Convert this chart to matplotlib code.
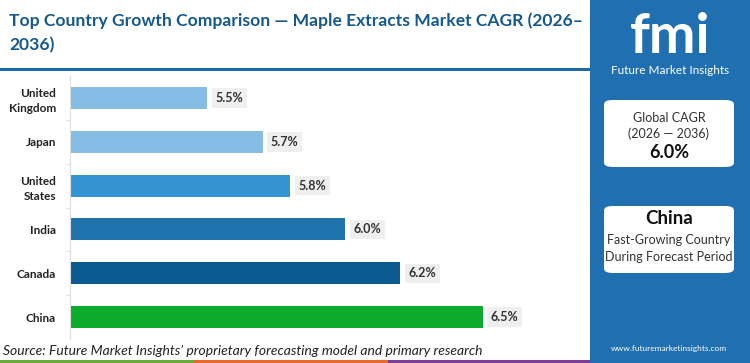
"""Top country growth comparison bar chart for the maple extracts market."""

import matplotlib

matplotlib.use("Agg")

import matplotlib.pyplot as plt
from matplotlib.patches import FancyBboxPatch, Rectangle

COUNTRIES = ["United\nKingdom", "Japan", "United\nStates", "India", "Canada", "China"]
CAGR = [5.5, 5.7, 5.8, 6.0, 6.2, 6.5]
BAR_COLORS = ["#85bde4", "#85bde4", "#3794d4", "#1f74ae", "#0b5a92", "#0cab2c"]

TITLE = "Top Country Growth Comparison \u2014 Maple Extracts Market CAGR (2026\u2013\n2036)"
SOURCE = "Source: Future Market Insights\u2019 proprietary forecasting model and primary research"
GLOBAL_CAGR = "6.0%"
LEADER = "China"

W, H = 750, 363
PANEL_BLUE = "#1f6fb1"
TITLE_BLUE = "#16598f"

plt.rcParams["font.family"] = ["Lato", "DejaVu Sans"]


def fx(x):
    return x / W


def fy(y):
    return 1 - y / H


def main():
    fig = plt.figure(figsize=(W / 100, H / 100), dpi=100)
    fig.patch.set_facecolor("white")

    # title and rule under it
    fig.text(fx(9), fy(33), TITLE, fontsize=12.6, fontweight="bold", color=TITLE_BLUE,
             va="center", ha="left", linespacing=1.6)
    fig.add_artist(Rectangle((0, fy(71)), fx(590), 3 / H, transform=fig.transFigure,
                             color="#1d6aa8", lw=0))

    ax = fig.add_axes([fx(70), fy(339), fx(440), (339 - 76) / H])
    ypos = list(range(len(COUNTRIES)))
    ax.barh(ypos, CAGR, height=0.5, color=BAR_COLORS, left=0)
    ax.set_xlim(5.0, 6.6)
    ax.set_ylim(5.5, -0.5)
    ax.set_yticks(ypos)
    ax.set_yticklabels(COUNTRIES, fontsize=8.5, fontweight="bold", color="#222222",
                       linespacing=1.5)
    ax.set_yticks([i + 0.5 for i in ypos[:-1]], minor=True)
    ax.tick_params(axis="y", which="major", length=0, pad=10)
    ax.tick_params(axis="y", which="minor", length=3, color="#dddddd")
    ax.set_xticks([])
    for side in ["top", "right", "bottom"]:
        ax.spines[side].set_visible(False)
    ax.spines["left"].set_color("#dddddd")
    for y, v in zip(ypos, CAGR):
        ax.annotate(f"{v:.1f}%", (v, y), xytext=(6, 0), textcoords="offset points",
                    va="center", ha="left", fontsize=9, fontweight="bold", color="#333333",
                    bbox=dict(boxstyle="square,pad=0.3", fc="#efefef", ec="none"))

    fig.text(fx(3), fy(351), SOURCE, fontsize=10, style="italic", color="#222222",
             va="center", ha="left")

    # bottom colour stripe
    for x0, x1, c in [(0, 194, "#6aac3c"), (194, 388, "#e8692a"), (388, 590, "#7d3c98")]:
        fig.add_artist(Rectangle((fx(x0), 0), fx(x1 - x0), 3 / H, transform=fig.transFigure,
                                 color=c, lw=0))

    # right side panel
    fig.add_artist(Rectangle((fx(590), 0), fx(160), 1, transform=fig.transFigure,
                             color=PANEL_BLUE, lw=0))
    fig.text(fx(670), fy(37), "fmi", fontsize=40, fontweight="bold", color="white",
             ha="center", va="center")
    fig.text(fx(670), fy(70), "Future Market Insights", fontsize=8.5, color="white",
             ha="center", va="center")

    for y0, y1 in [(100, 167), (206, 273)]:
        fig.add_artist(FancyBboxPatch((fx(604), fy(y1)), fx(130), (y1 - y0) / H,
                                      boxstyle="round,pad=0,rounding_size=0.012",
                                      transform=fig.transFigure, fc="white", ec="none"))
    fig.text(fx(669), fy(118), "Global CAGR", fontsize=9, color="#333333",
             ha="center", va="center")
    fig.text(fx(669), fy(134), "(2026 \u2014 2036)", fontsize=9, color="#333333",
             ha="center", va="center")
    fig.text(fx(669), fy(153), GLOBAL_CAGR, fontsize=13, fontweight="bold", color="#111111",
             ha="center", va="center")
    fig.text(fx(669), fy(219), LEADER, fontsize=13.5, fontweight="bold", color="#111111",
             ha="center", va="center")
    fig.text(fx(669), fy(240), "Fast-Growing Country", fontsize=9, color="#333333",
             ha="center", va="center")
    fig.text(fx(669), fy(257), "During Forecast Period", fontsize=9, color="#333333",
             ha="center", va="center")
    fig.text(fx(669), fy(349), "www.futuremarketinsights.com", fontsize=6, color="white",
             ha="center", va="center")

    fig.savefig("out.png", dpi=100, facecolor=fig.get_facecolor())
    plt.close(fig)


if __name__ == "__main__":
    main()
